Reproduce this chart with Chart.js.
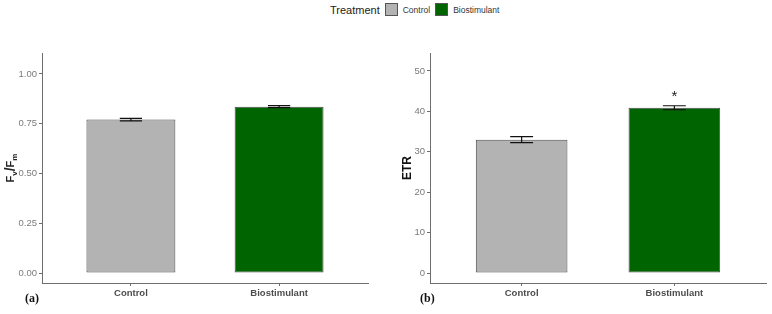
<!DOCTYPE html>
<html>
<head>
<meta charset="utf-8">
<script src="https://cdn.jsdelivr.net/npm/chart.js@4.4.1/dist/chart.umd.min.js"></script>
<style>
  body { margin: 0; background: #fff; }
  #wrap { position: relative; width: 772px; height: 314px; font-family: "Liberation Sans", Arial, sans-serif; }
  canvas { position: absolute; top: 0; }
  #fvfmChart { left: 0; }
  #etrChart { left: 386px; }
  .legend { position: absolute; top: 3px; left: 330px; display: flex; align-items: center; color: #222; }
  .legend .title { font-size: 11px; margin-right: 5px; }
  .legend .key { width: 11px; height: 11px; border: 1px solid #555; margin-right: 5px; }
  .legend .lab { font-size: 8.5px; color: #333; margin-right: 5px; }
  .panel { position: absolute; top: 291px; font-family: "Liberation Serif", "DejaVu Serif", serif; font-weight: bold; font-size: 12px; color: #111; }
</style>
</head>
<body>
<div id="wrap">
  <div class="legend">
    <span class="title">Treatment</span>
    <span class="key" style="background:#b3b3b3"></span><span class="lab">Control</span>
    <span class="key" style="background:#006400"></span><span class="lab">Biostimulant</span>
  </div>
  <canvas id="fvfmChart" width="386" height="314"></canvas>
  <canvas id="etrChart" width="386" height="314"></canvas>
  <div class="panel" style="left:25px">(a)</div>
  <div class="panel" style="left:420px">(b)</div>
</div>
<script>
// Chlorophyll fluorescence: Fv/Fm and ETR by treatment

const categories = ['Control', 'Biostimulant'];
const barColors = ['#b3b3b3', '#006400'];

const fvfmMeans = [0.771, 0.836];
const fvfmErrors = [0.006, 0.005];
const fvfmTicks = [0, 0.25, 0.5, 0.75, 1.0];

const etrMeans = [33.0, 40.9];
const etrErrors = [0.75, 0.5];
const etrSignif = ['', '*'];
const etrTicks = [0, 10, 20, 30, 40, 50];

const axisColor = '#6e6e6e';
const tickColor = '#7a7a7a';

// Error bars + significance marks
const errorBarPlugin = {
    id: 'errorBars',
    afterDatasetsDraw(chart, args, opts) {
        const ctx = chart.ctx;
        const xs = chart.scales.x;
        const ys = chart.scales.y;
        const half = xs.getPixelForValue(1.075) - xs.getPixelForValue(1);
        ctx.save();
        ctx.strokeStyle = '#111';
        ctx.lineWidth = 1.2;
        opts.means.forEach((m, i) => {
            const x = xs.getPixelForValue(i + 1);
            const yTop = ys.getPixelForValue(m + opts.errors[i]);
            const yBot = ys.getPixelForValue(m - opts.errors[i]);
            ctx.beginPath();
            ctx.moveTo(x, yTop); ctx.lineTo(x, yBot);
            ctx.moveTo(x - half, yTop); ctx.lineTo(x + half, yTop);
            ctx.moveTo(x - half, yBot); ctx.lineTo(x + half, yBot);
            ctx.stroke();
            const mark = opts.signif ? opts.signif[i] : '';
            if (mark) {
                ctx.fillStyle = '#222';
                ctx.font = '15px "Liberation Sans", Arial, sans-serif';
                ctx.textAlign = 'center';
                ctx.textBaseline = 'middle';
                ctx.fillText(mark, x, yTop - 9);
            }
        });
        ctx.restore();
    }
};

// Fv/Fm axis title with subscripts
const fvfmTitlePlugin = {
    id: 'fvfmTitle',
    afterDraw(chart) {
        const ctx = chart.ctx;
        const cy = (chart.chartArea.top + chart.chartArea.bottom) / 2;
        ctx.save();
        ctx.translate(14, cy);
        ctx.rotate(-Math.PI / 2);
        ctx.fillStyle = '#222';
        ctx.textBaseline = 'alphabetic';
        const big = 'bold 11px "Liberation Sans", Arial, sans-serif';
        const small = 'bold 8px "Liberation Sans", Arial, sans-serif';
        const parts = [
            { t: 'F', f: big, dy: 0 },
            { t: 'v', f: small, dy: 3 },
            { t: '/', f: 'bold 14px "Liberation Sans", Arial, sans-serif', dy: 1 },
            { t: 'F', f: big, dy: 0 },
            { t: 'm', f: small, dy: 3 }
        ];
        let total = 0;
        parts.forEach(p => { ctx.font = p.f; p.w = ctx.measureText(p.t).width; total += p.w; });
        let x = -total / 2;
        parts.forEach(p => { ctx.font = p.f; ctx.fillText(p.t, x, p.dy); x += p.w; });
        ctx.restore();
    }
};

function buildChart(canvasId, means, errors, signif, ticks, yMin, yMax, fmt, yWidth, padRight, yTitle, extraPlugins) {
    const ctx = document.getElementById(canvasId).getContext('2d');
    return new Chart(ctx, {
        type: 'bar',
        data: {
            datasets: [{
                data: means.map((v, i) => ({ x: i + 1, y: v })),
                backgroundColor: barColors,
                borderColor: '#4d4d4d',
                borderWidth: 1,
                borderSkipped: false,
                barPercentage: 0.6,
                categoryPercentage: 1
            }]
        },
        options: {
            responsive: false,
            animation: false,
            layout: { padding: { top: 53, right: padRight, bottom: 13, left: 0 } },
            plugins: {
                legend: { display: false },
                tooltip: { enabled: false },
                errorBars: { means: means, errors: errors, signif: signif }
            },
            scales: {
                x: {
                    type: 'linear',
                    min: 0.4,
                    max: 2.6,
                    offset: false,
                    afterBuildTicks: s => { s.ticks = categories.map((c, i) => ({ value: i + 1 })); },
                    afterFit: s => { s.height = 18; },
                    ticks: {
                        callback: v => categories[v - 1],
                        color: '#4d4d4d',
                        font: { size: 9.5, weight: 'bold', family: '"Liberation Sans", Arial, sans-serif' },
                        padding: 2,
                        maxRotation: 0
                    },
                    grid: { drawOnChartArea: false, offset: false, color: axisColor, tickLength: 3 },
                    border: { color: axisColor, width: 1 }
                },
                y: {
                    min: yMin,
                    max: yMax,
                    afterBuildTicks: s => { s.ticks = ticks.map(v => ({ value: v })); },
                    afterFit: s => { s.width = yWidth; },
                    ticks: {
                        callback: fmt,
                        color: tickColor,
                        font: { size: 9.5, family: '"Liberation Sans", Arial, sans-serif' },
                        padding: 2
                    },
                    title: {
                        display: !!yTitle,
                        text: yTitle,
                        color: '#111',
                        font: { size: 12, weight: 'bold', family: '"Liberation Sans", Arial, sans-serif' },
                        padding: { top: 14, bottom: 0 }
                    },
                    grid: { drawOnChartArea: false, color: axisColor, tickLength: 3 },
                    border: { color: axisColor, width: 1 }
                }
            }
        },
        plugins: [errorBarPlugin].concat(extraPlugins)
    });
}

document.addEventListener('DOMContentLoaded', () => {
    buildChart('fvfmChart', fvfmMeans, fvfmErrors, null, fvfmTicks, -0.05, 1.1055,
        v => v.toFixed(2), 42, 18, '', [fvfmTitlePlugin]);
    buildChart('etrChart', etrMeans, etrErrors, etrSignif, etrTicks, -2.47, 54.45,
        v => String(v), 44, 6, 'ETR', []);
});
</script>
</body>
</html>
